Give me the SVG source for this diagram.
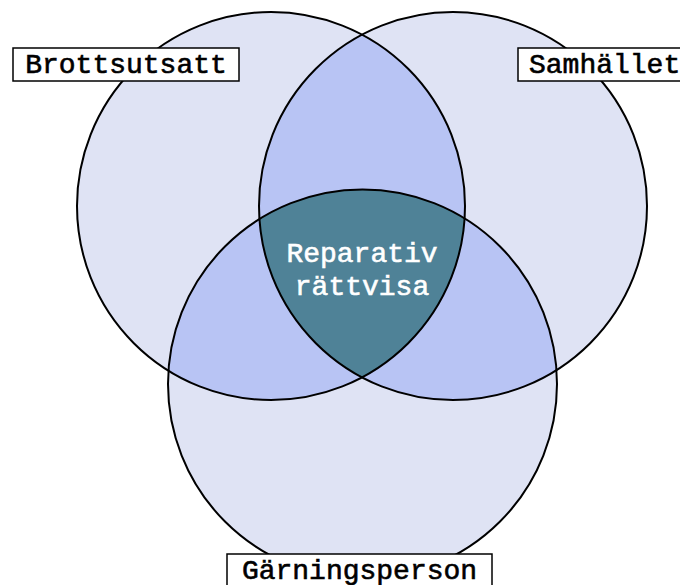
<svg xmlns="http://www.w3.org/2000/svg" width="680" height="585" viewBox="0 0 680 585">
  <style>
    .ring { fill: none; stroke: #000; stroke-width: 2; }
    .box { fill: #fff; stroke: #000; stroke-width: 1.5; }
    .lbl { font-family: "Liberation Mono", "Courier New", monospace; font-weight: normal; font-size: 28px; fill: #000; stroke: #000; stroke-width: 0.6; }
    .ctr { font-family: "Liberation Mono", "Courier New", monospace; font-weight: normal; font-size: 28px; fill: #fff; stroke: #fff; stroke-width: 0.6; text-anchor: middle; }
  </style>
  <defs>
    <clipPath id="cA"><circle cx="271" cy="206" r="194"/></clipPath>
    <clipPath id="cB"><circle cx="453" cy="206" r="194"/></clipPath>
  </defs>
  <rect width="680" height="585" fill="#fff"/>
  <g id="fills">
    <circle cx="271" cy="206" r="194" fill="#dfe3f4"/>
    <circle cx="453" cy="206" r="194" fill="#dfe3f4"/>
    <circle cx="362.5" cy="384" r="194.5" fill="#dfe3f4"/>
    <g clip-path="url(#cA)">
      <circle cx="453" cy="206" r="194" fill="#b8c4f4"/>
      <circle cx="362.5" cy="384" r="194.5" fill="#b8c4f4"/>
    </g>
    <g clip-path="url(#cB)">
      <circle cx="362.5" cy="384" r="194.5" fill="#b8c4f4"/>
    </g>
    <g clip-path="url(#cA)">
      <g clip-path="url(#cB)">
        <circle cx="362.5" cy="384" r="194.5" fill="#4f8297"/>
      </g>
    </g>
  </g>
  <g id="brottsutsatt-circle"><circle class="ring" cx="271" cy="206" r="194"/></g>
  <g id="samhallet-circle"><circle class="ring" cx="453" cy="206" r="194"/></g>
  <g id="garningsperson-circle"><circle class="ring" cx="362.5" cy="384" r="194.5"/></g>
  <g id="connectors"></g>
  <g id="brottsutsatt">
    <rect class="box" x="13" y="48" width="226" height="33"/>
    <text class="lbl" x="126" y="73" text-anchor="middle">Brottsutsatt</text>
  </g>
  <g id="samhallet">
    <rect class="box" x="518" y="48" width="170" height="33"/>
    <text class="lbl" x="529" y="73">Samhället</text>
  </g>
  <g id="garningsperson">
    <rect class="box" x="227" y="554" width="265" height="40"/>
    <text class="lbl" x="359.5" y="579" text-anchor="middle">Gärningsperson</text>
  </g>
  <g id="reparativ-rattvisa">
    <text class="ctr" x="362" y="262">Reparativ</text>
    <text class="ctr" x="362" y="295">rättvisa</text>
  </g>
</svg>
